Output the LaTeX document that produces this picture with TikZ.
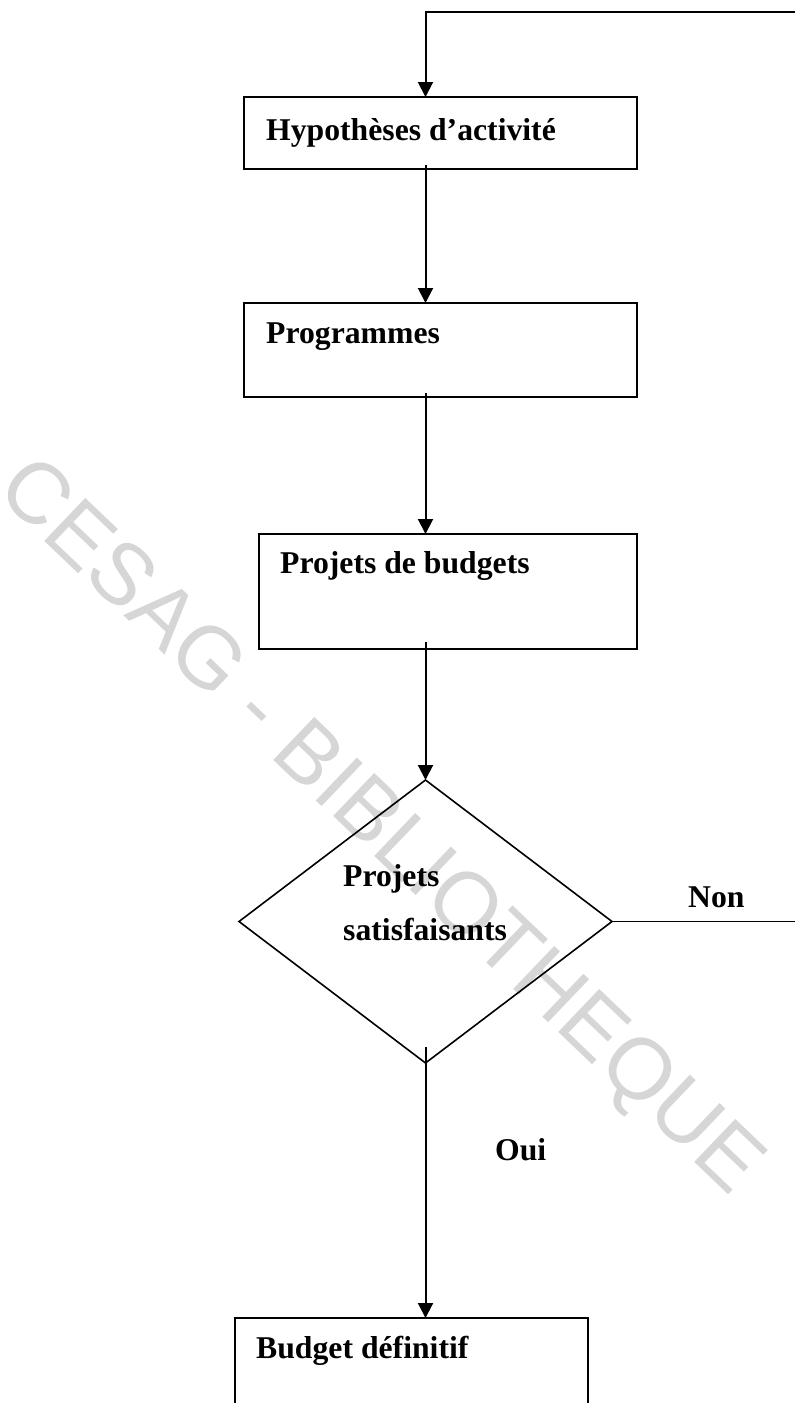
\documentclass[tikz,border=0pt]{standalone}
\usepackage{fontspec}
\setmainfont{Liberation Serif}
\newfontfamily\wmfont{Liberation Sans}
\usetikzlibrary{arrows.meta,shapes.geometric,calc}
\begin{document}
\begin{tikzpicture}[x=1pt,y=-1pt,
  box/.style={draw, rectangle, line width=2pt, inner sep=0pt, outer sep=0pt, anchor=north west},
  decision/.style={draw, diamond, line width=1.6pt, inner sep=0pt, outer sep=0pt},
  lbl/.style={font=\fontsize{31.7}{38}\selectfont\bfseries, inner sep=0pt, anchor=base west},
  arr/.style={line width=2pt, -{Triangle[width=15pt,length=15pt]}},
  plain/.style={line width=1.6pt},
  stamp/.style={font=\wmfont\fontsize{86.5}{90}\selectfont, text=black!16, inner sep=0pt}]
\useasboundingbox (0,0) rectangle (795,1403);
\clip (0,0) rectangle (795,1403);

% library stamp across the page
\node[stamp, rotate=-43.7] (wm) at (378,829) {CESAG - BIBLIOTHEQUE};

% process boxes
\node[box, minimum width=393pt, minimum height=72pt]  (b1) at (244,97)   {};
\node[box, minimum width=393pt, minimum height=94pt]  (b2) at (244,303)  {};
\node[box, minimum width=378pt, minimum height=115pt] (b3) at (259,534)  {};
\node[box, minimum width=353pt, minimum height=130pt] (b4) at (235,1318) {};

% decision
\node[decision, minimum width=373pt, minimum height=283pt] (dm) at (425.5,921.5) {};

% texts
\node[lbl] (t1)  at (266,140)  {Hypothèses d’activité};
\node[lbl] (t2)  at (266,343)  {Programmes};
\node[lbl] (t3)  at (280,573)  {Projets de budgets};
\node[lbl] (t4a) at (343,886)  {Projets};
\node[lbl] (t4b) at (343,940)  {satisfaisants};
\node[lbl] (t5)  at (256,1358) {Budget définitif};
\node[lbl] (non) at (688,907)  {Non};
\node[lbl] (oui) at (495,1160) {Oui};

% loose ends of the feedback loop at the page edge
\coordinate (loop) at (795,12);
\coordinate (exit) at (795,921.5);

% connectors
\draw[arr] (loop) -| (b1.north -| dm.north);
\draw[arr] ($(b1.south -| dm.north)+(0,-4)$) -- (b2.north -| dm.north);
\draw[arr] ($(b2.south -| dm.north)+(0,-4)$) -- (b3.north -| dm.north);
\draw[arr] ($(b3.south -| dm.north)+(0,-7)$) -- (dm.north);
\draw[arr] ($(dm.south)+(0,-16)$) -- (b4.north -| dm.south);
\draw[plain] (dm.east) -- (exit);
\end{tikzpicture}
\end{document}
